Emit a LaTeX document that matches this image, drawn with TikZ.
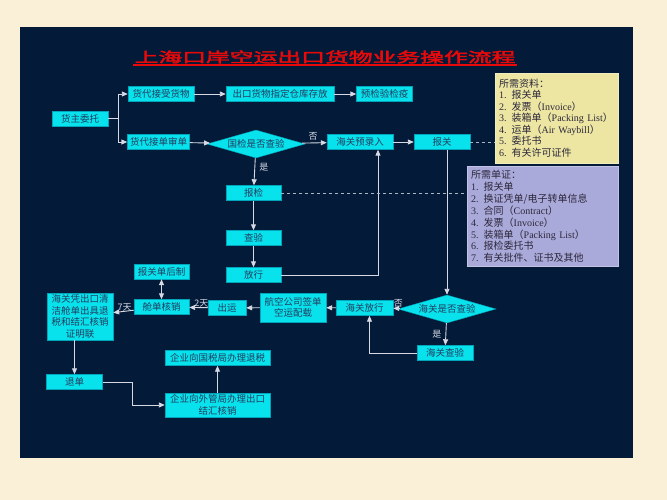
\documentclass[tikz,border=0pt]{standalone}
\usepackage{fontspec}
\usepackage{graphicx}
\usetikzlibrary{shapes.geometric,arrows.meta}
\setmainfont{Liberation Serif}
\newfontfamily\cjk[AutoFakeBold=2.5]{Noto Sans CJK SC}
\definecolor{beige}{RGB}{250,240,215}
\definecolor{panel}{RGB}{3,26,56}
\definecolor{boxcyan}{RGB}{8,226,236}
\definecolor{boxline}{RGB}{0,165,185}
\definecolor{boxtext}{RGB}{35,60,95}
\definecolor{wirec}{RGB}{215,218,228}
\definecolor{notey}{RGB}{236,230,162}
\definecolor{notep}{RGB}{170,170,218}
\definecolor{notetext}{RGB}{45,40,60}
\definecolor{titlered}{RGB}{232,10,10}
\newcommand\en[1]{{\rmfamily #1}}

\begin{document}
\begin{tikzpicture}[x=1pt,y=-1pt,
    box/.style={draw=boxline,line width=0.4pt,fill=boxcyan,text=boxtext,inner sep=1pt,
        minimum height=15,font=\cjk\fontsize{9.5}{11.5}\selectfont},
    choice/.style={box,diamond,aspect=3.6,minimum width=98,minimum height=28},
    link/.style={draw=wirec,line width=0.9pt},
    arr/.style={link,-{Triangle[length=6pt,width=5pt]}},
    dashlink/.style={draw=wirec!80!panel,line width=0.7pt,dashed},
    lbl/.style={text=wirec,inner sep=1pt,font=\cjk\fontsize{9}{10}\selectfont},
    note/.style={anchor=north west,align=left,inner sep=4pt,text=notetext,
        font=\cjk\fontsize{10}{11.5}\selectfont}]
    \fill[beige] (0,0) rectangle (667,500);
    \fill[panel] (20,27) rectangle (633,458);
    \useasboundingbox (0,0) rectangle (667,500);

    \node[text=titlered,inner sep=1pt,font=\cjk\bfseries\fontsize{14}{15}\selectfont] (title) at (325,57)
        {\scalebox{1.7}[1]{上海口岸空运出口货物业务操作流程}};
    \draw[titlered,line width=1.6pt] (title.south west) -- (title.south east);

    \node[box,minimum width=56] (huozhu) at (80,118.5) {货主委托};
    \node[box,minimum width=66] (jieshou) at (161,94) {货代接受货物};
    \node[box,minimum width=108] (cangku) at (280,94) {出口货物指定仓库存放};
    \node[box,minimum width=56] (yujian) at (384.5,94) {预检验检疫};
    \node[box,minimum width=62] (shendan) at (158.5,142) {货代接单审单};
    \node[choice] (guojian) at (256,144) {国检是否查验};
    \node[box,minimum width=66] (yulu) at (360,142) {海关预录入};
    \node[box,minimum width=56] (baoguan) at (442,142) {报关};
    \node[box,minimum width=55] (baojian) at (253.5,193) {报检};
    \node[box,minimum width=55] (chayan) at (253.5,238) {查验};
    \node[box,minimum width=55] (fangxing) at (253.5,275) {放行};

    \node[choice,minimum width=88] (haiguan) at (447,309) {海关是否查验};
    \node[box,minimum width=56] (hgcha) at (445,353) {海关查验};
    \node[box,minimum width=57] (hgfang) at (364.5,308) {海关放行};
    \node[box,minimum width=66,minimum height=29,align=center] (peizai) at (293,307.5) {航空公司签单\\空运配载};
    \node[box,minimum width=38] (chuyun) at (227,308) {出运};
    \node[box,minimum width=55] (cangdan) at (161.5,307) {舱单核销};
    \node[box,minimum width=55] (houzhi) at (161.5,271.5) {报关单后制};
    \node[box,minimum width=66,minimum height=47,align=center] (zhengming) at (80,316.5)
        {海关凭出口清\\洁舱单出具退\\税和结汇核销\\证明联};
    \node[box,minimum width=56] (tuidan) at (74.5,382) {退单};
    \node[box,minimum width=105] (tuishui) at (217.5,358) {企业向国税局办理退税};
    \node[box,minimum width=105,minimum height=24,align=center] (hexiao) at (217.5,405)
        {企业向外管局办理出口\\结汇核销};

    \node[note,fill=notey,draw=notey!70!white,text width=115,minimum width=123,minimum height=90] (ziliao) at (495,73)
        {所需资料：\\\en{1.} 报关单\\\en{2.} 发票（\en{Invoice}）\\\en{3.} 装箱单（\en{Packing List}）\\
         \en{4.} 运单（\en{Air Waybill}）\\\en{5.} 委托书\\\en{6.} 有关许可证件};
    \node[note,fill=notep,draw=notep!70!white,text width=143,minimum width=151,minimum height=100,
        font=\cjk\fontsize{10}{11.9}\selectfont] (danzheng) at (467,166)
        {所需单证：\\\en{1.} 报关单\\\en{2.} 换证凭单/电子转单信息\\\en{3.} 合同（\en{Contract}）\\
         \en{4.} 发票（\en{Invoice}）\\\en{5.} 装箱单（\en{Packing List}）\\\en{6.} 报检委托书\\
         \en{7.} 有关批件、证书及其他};

    \draw[link] (huozhu.east) -- ++(10,0) coordinate (fork);
    \draw[arr] (fork) |- (jieshou);
    \draw[arr] (fork) |- (shendan);
    \foreach \a/\b in {jieshou/cangku,cangku/yujian,shendan/guojian,yulu/baoguan,
        baojian/chayan,chayan/fangxing,hgfang/peizai,peizai/chuyun,hexiao/tuishui}
        \draw[arr] (\a) -- (\b);
    \draw[arr] (guojian) -- node[lbl,above=1pt,pos=0.45] {否} (yulu);
    \draw[arr] (guojian) -- node[lbl,right=3pt,pos=0.35] {是} (baojian);
    \draw[arr] (fangxing.east) -| ([xshift=18pt]yulu.south);
    \draw[arr] (baoguan.south -| haiguan.north) -- (haiguan.north);
    \draw[arr] (haiguan) -- node[lbl,above=0pt,pos=0.2] {否} (hgfang);
    \draw[arr] (haiguan) -- node[lbl,left=3pt] {是} (hgcha);
    \draw[arr] (hgcha.west) -| ([xshift=5pt]hgfang.south);
    \draw[arr] (chuyun) -- node[lbl,above=-1pt,pos=0.35] {2天} (cangdan);
    \draw[arr] (cangdan) -- node[lbl,above=-1pt,pos=0.45] {7天} (zhengming);
    \draw[link,{Triangle[length=6pt,width=5pt]}-{Triangle[length=6pt,width=5pt]}] (houzhi) -- (cangdan);
    \draw[arr] (tuidan.north |- zhengming.south) -- (tuidan);
    \draw[arr] (tuidan.east) -- ++(30,0) |- (hexiao.west);
    \draw[dashlink] (baojian.east) -- (baojian.east -| danzheng.west);
    \draw[dashlink] (baoguan.east) -- (baoguan.east -| ziliao.west);
\end{tikzpicture}
\end{document}
